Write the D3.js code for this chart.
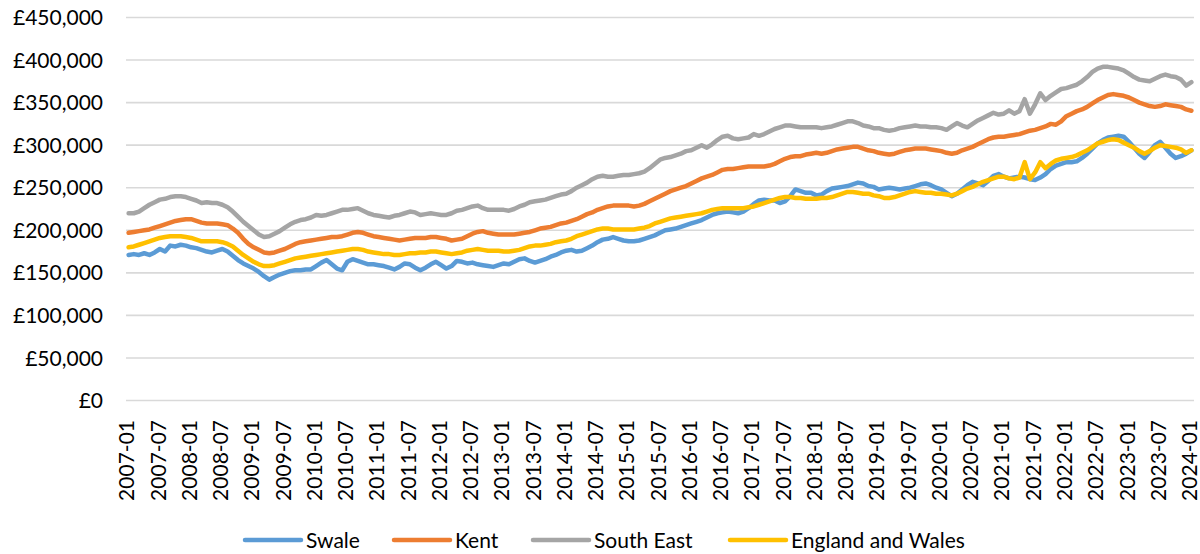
<!DOCTYPE html>
<html>
<head>
<meta charset="utf-8">
<script src="https://cdn.jsdelivr.net/npm/d3@7"></script>
<style>
  body { margin: 0; background: #fff; }
  svg text { font-family: Lato, "Open Sans", sans-serif; fill: #000; }
</style>
</head>
<body>
<div id="chart"></div>
<script>
// monthly average prices, in £ thousands, 2007-01 .. 2024-01
var swale = [
  171,172,171,173,171,174,178,175,182,181,183,182,
  180,179,177,175,174,176,178,175,170,165,161,158,
  155,151,146,142,145,148,150,152,153,153,154,154,
  158,162,165,160,155,153,163,166,164,162,160,160,
  159,158,156,154,157,161,160,156,153,156,160,163,
  159,155,158,164,163,161,162,160,159,158,157,159,
  161,160,163,166,167,164,162,164,166,169,171,174,
  176,177,175,176,179,182,186,189,190,192,190,188,
  187,187,188,190,192,194,197,200,201,202,204,206,
  208,210,212,215,218,220,221,222,221,220,222,226,
  231,235,236,235,235,232,234,240,248,246,244,244,
  241,242,246,249,250,251,252,254,256,255,252,251,
  248,249,250,249,248,249,250,252,254,255,253,250,
  248,244,240,243,248,253,257,255,253,258,264,266,
  263,261,262,263,262,260,259,262,266,272,276,278,
  280,280,281,285,290,296,302,306,309,310,311,310,
  304,297,290,285,292,300,304,297,290,285,287,290,
  294
];
var kent = [
  197,198,199,200,201,203,205,207,209,211,212,213,
  213,211,209,208,208,208,207,206,202,197,190,184,
  180,177,174,173,174,176,178,181,184,186,187,188,
  189,190,191,192,192,193,195,197,198,197,195,193,
  192,191,190,189,188,189,190,191,191,191,192,192,
  191,190,188,189,190,193,196,198,199,197,196,195,
  195,195,195,196,197,198,200,202,203,204,206,208,
  209,211,213,216,219,221,224,226,228,229,229,229,
  229,228,229,231,234,237,240,243,246,248,250,252,
  255,258,261,263,265,268,271,272,272,273,274,275,
  275,275,275,276,278,281,284,286,287,287,289,290,
  291,290,291,293,295,296,297,298,298,296,294,293,
  291,290,289,290,292,294,295,296,296,296,295,294,
  293,291,290,291,294,296,298,301,304,307,309,310,
  310,311,312,313,315,317,318,320,322,325,324,328,
  334,337,340,342,345,349,353,356,359,360,359,358,
  356,353,350,348,346,345,346,348,347,346,345,342,
  340.5
];
var southEast = [
  220,220,222,226,230,233,236,237,239,240,240,239,
  237,235,232,233,232,232,230,227,222,216,210,205,
  200,195,192,193,196,199,203,207,210,212,213,215,
  218,217,218,220,222,224,224,225,226,223,220,218,
  217,216,215,217,218,220,222,221,218,219,220,219,
  218,218,220,223,224,226,228,229,226,224,224,224,
  224,223,225,228,230,233,234,235,236,238,240,242,
  243,246,250,253,256,260,263,264,263,263,264,265,
  265,266,267,269,273,278,283,285,286,288,290,293,
  294,297,300,297,301,306,310,311,308,307,308,309,
  313,311,313,316,319,321,323,323,322,321,321,321,
  321,320,321,322,324,326,328,328,326,323,322,320,
  320,318,317,318,320,321,322,323,322,322,321,321,
  320,318,322,326,323,321,325,329,332,335,338,336,
  337,341,337,340,354,337,348,361,353,358,362,366,
  367,369,371,375,380,386,390,392,392,391,390,388,
  384,380,377,376,375,378,381,383,381,380,377,370,
  374
];
var englandWales = [
  180,181,183,185,187,189,191,192,193,193,193,192,
  191,189,187,187,187,187,186,184,181,176,171,167,
  163,160,158,158,159,161,163,165,167,168,169,170,
  171,172,173,174,175,176,177,178,178,177,175,174,
  173,172,172,171,171,172,173,173,174,174,175,175,
  174,173,172,173,174,176,177,178,177,176,176,176,
  175,175,176,177,179,181,182,182,183,184,186,187,
  188,190,193,195,197,199,201,202,202,201,201,201,
  201,201,202,203,205,208,210,212,214,215,216,217,
  218,219,220,222,224,225,226,226,226,226,226,227,
  228,230,232,234,236,238,239,239,238,238,237,237,
  237,238,238,239,241,243,245,245,244,243,243,241,
  240,238,238,239,241,243,245,246,245,244,244,243,
  243,242,241,243,246,249,251,254,257,259,261,263,
  263,261,260,262,280,260,268,280,273,278,282,284,
  285,286,288,291,294,298,302,304,306,307,306,303,
  300,297,293,290,293,297,300,299,298,297,295,291,
  294
];

var seriesNames = ["Swale", "Kent", "South East", "England and Wales"];
var seriesColors = ["#5B9BD5", "#ED7D31", "#A5A5A5", "#FFC000"];
var yTicks = [0, 50000, 100000, 150000, 200000, 250000, 300000, 350000, 400000, 450000];

// month labels 2007-01 .. 2024-01
var months = [];
for (var yr = 2007; yr <= 2024; yr++) {
  for (var mo = 1; mo <= 12; mo++) {
    if (yr == 2024 && mo > 1) break;
    months.push(yr + "-" + (mo < 10 ? "0" + mo : mo));
  }
}
var xLabels = months.filter(function(d, i) { return i % 6 == 0; });

var allSeries = [swale, kent, southEast, englandWales].map(function(vals, k) {
  return {
    name: seriesNames[k],
    color: seriesColors[k],
    values: vals.map(function(v, i) { return { month: months[i], value: v * 1000 }; })
  };
});

var width = 1200, height = 554;

var svg = d3.select("#chart").append("svg")
  .attr("width", width)
  .attr("height", height);

var x = d3.scalePoint()
  .domain(months)
  .range([126, 1194])
  .padding(0.5);

var y = d3.scaleLinear()
  .domain([0, 450000])
  .range([400.5, 17.5]);

// gridlines
svg.append("g")
  .selectAll("line")
  .data(yTicks)
  .enter().append("line")
  .attr("x1", 126)
  .attr("x2", 1194)
  .attr("y1", function(d) { return y(d); })
  .attr("y2", function(d) { return y(d); })
  .attr("stroke", "#d9d9d9")
  .attr("stroke-width", 1.6);

// y axis labels
svg.append("g")
  .selectAll("text")
  .data(yTicks)
  .enter().append("text")
  .attr("x", 103)
  .attr("y", function(d) { return y(d); })
  .attr("dy", "0.36em")
  .attr("text-anchor", "end")
  .style("font-size", "21px")
  .text(function(d) { return "£" + d3.format(",")(d); });

// x axis labels, rotated
svg.append("g")
  .selectAll("text")
  .data(xLabels)
  .enter().append("text")
  .attr("transform", function(d) { return "translate(" + (x(d) - 1.5) + ",420) rotate(-90)"; })
  .attr("dy", "0.34em")
  .attr("text-anchor", "end")
  .style("font-size", "21px")
  .text(function(d) { return d; });

var line = d3.line()
  .x(function(d) { return x(d.month); })
  .y(function(d) { return y(d.value); });

svg.append("g")
  .selectAll("path")
  .data(allSeries)
  .enter().append("path")
  .attr("d", function(d) { return line(d.values); })
  .attr("fill", "none")
  .attr("stroke", function(d) { return d.color; })
  .attr("stroke-width", 4.5)
  .attr("stroke-linejoin", "round")
  .attr("stroke-linecap", "round");

// legend
var legendX = [245, 394, 533, 730];
var legend = svg.append("g")
  .selectAll("g")
  .data(allSeries)
  .enter().append("g")
  .attr("transform", function(d, i) { return "translate(" + legendX[i] + ",540)"; });

legend.append("line")
  .attr("x1", 0)
  .attr("x2", 56)
  .attr("stroke", function(d) { return d.color; })
  .attr("stroke-width", 4.5)
  .attr("stroke-linecap", "round");

legend.append("text")
  .attr("x", 61)
  .attr("dy", "0.36em")
  .style("font-size", "21px")
  .text(function(d) { return d.name; });
</script>
</body>
</html>
